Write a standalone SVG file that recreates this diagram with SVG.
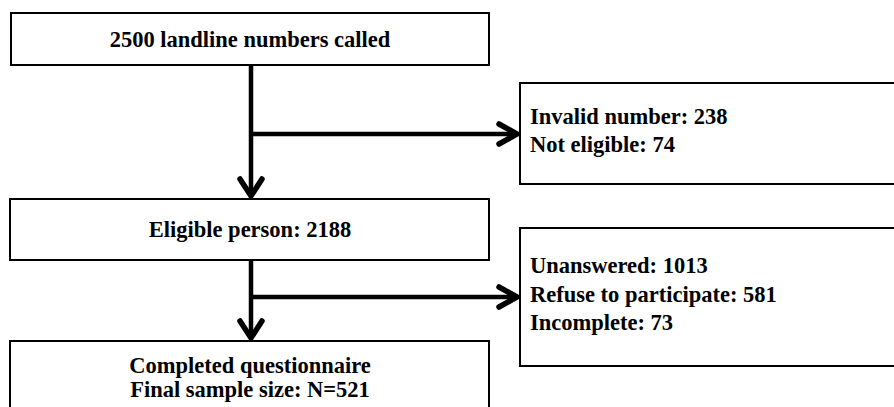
<svg xmlns="http://www.w3.org/2000/svg" width="894" height="407" viewBox="0 0 894 407">
<style>
.box{fill:#fff;stroke:#000;stroke-width:2}
.t{font-family:"Liberation Serif","Times New Roman",serif;font-weight:bold;font-size:22.5px;fill:#000}
.c{text-anchor:middle}
.ln{fill:none;stroke:#000;stroke-width:4.5}
.ah{fill:none;stroke:#000;stroke-width:5.5;stroke-linecap:round;stroke-linejoin:miter}
</style>
<rect width="894" height="407" fill="#fff"/>
<g id="connectors">
<line class="ln" x1="251" y1="65" x2="251" y2="196"/>
<line class="ln" x1="251" y1="134" x2="517" y2="134"/>
<polyline class="ah" points="240,179 251,196 262,179"/>
<polyline class="ah" points="499,124 517,134 499,144"/>
<line class="ln" x1="251" y1="260" x2="251" y2="338"/>
<line class="ln" x1="251" y1="297" x2="517" y2="297"/>
<polyline class="ah" points="240,321 251,338 262,321"/>
<polyline class="ah" points="499,287 517,297 499,307"/>
</g>
<g id="n1">
<rect class="box" x="11" y="13" width="478" height="52"/>
<text class="t c" x="250" y="47">2500 landline numbers called</text>
</g>
<g id="n2">
<rect class="box" x="520" y="83" width="390" height="101"/>
<text class="t" x="530" y="124">Invalid number: 238</text>
<text class="t" x="530" y="152">Not eligible: 74</text>
</g>
<g id="n3">
<rect class="box" x="10" y="199" width="479" height="61"/>
<text class="t c" x="250" y="237">Eligible person: 2188</text>
</g>
<g id="n4">
<rect class="box" x="520" y="228" width="390" height="138"/>
<text class="t" x="530" y="273">Unanswered: 1013</text>
<text class="t" x="530" y="302">Refuse to participate: 581</text>
<text class="t" x="530" y="330">Incomplete: 73</text>
</g>
<g id="n5">
<rect class="box" x="10" y="341" width="479" height="80"/>
<text class="t c" x="250" y="373">Completed questionnaire</text>
<text class="t c" x="250" y="397">Final sample size: N=521</text>
</g>
</svg>
